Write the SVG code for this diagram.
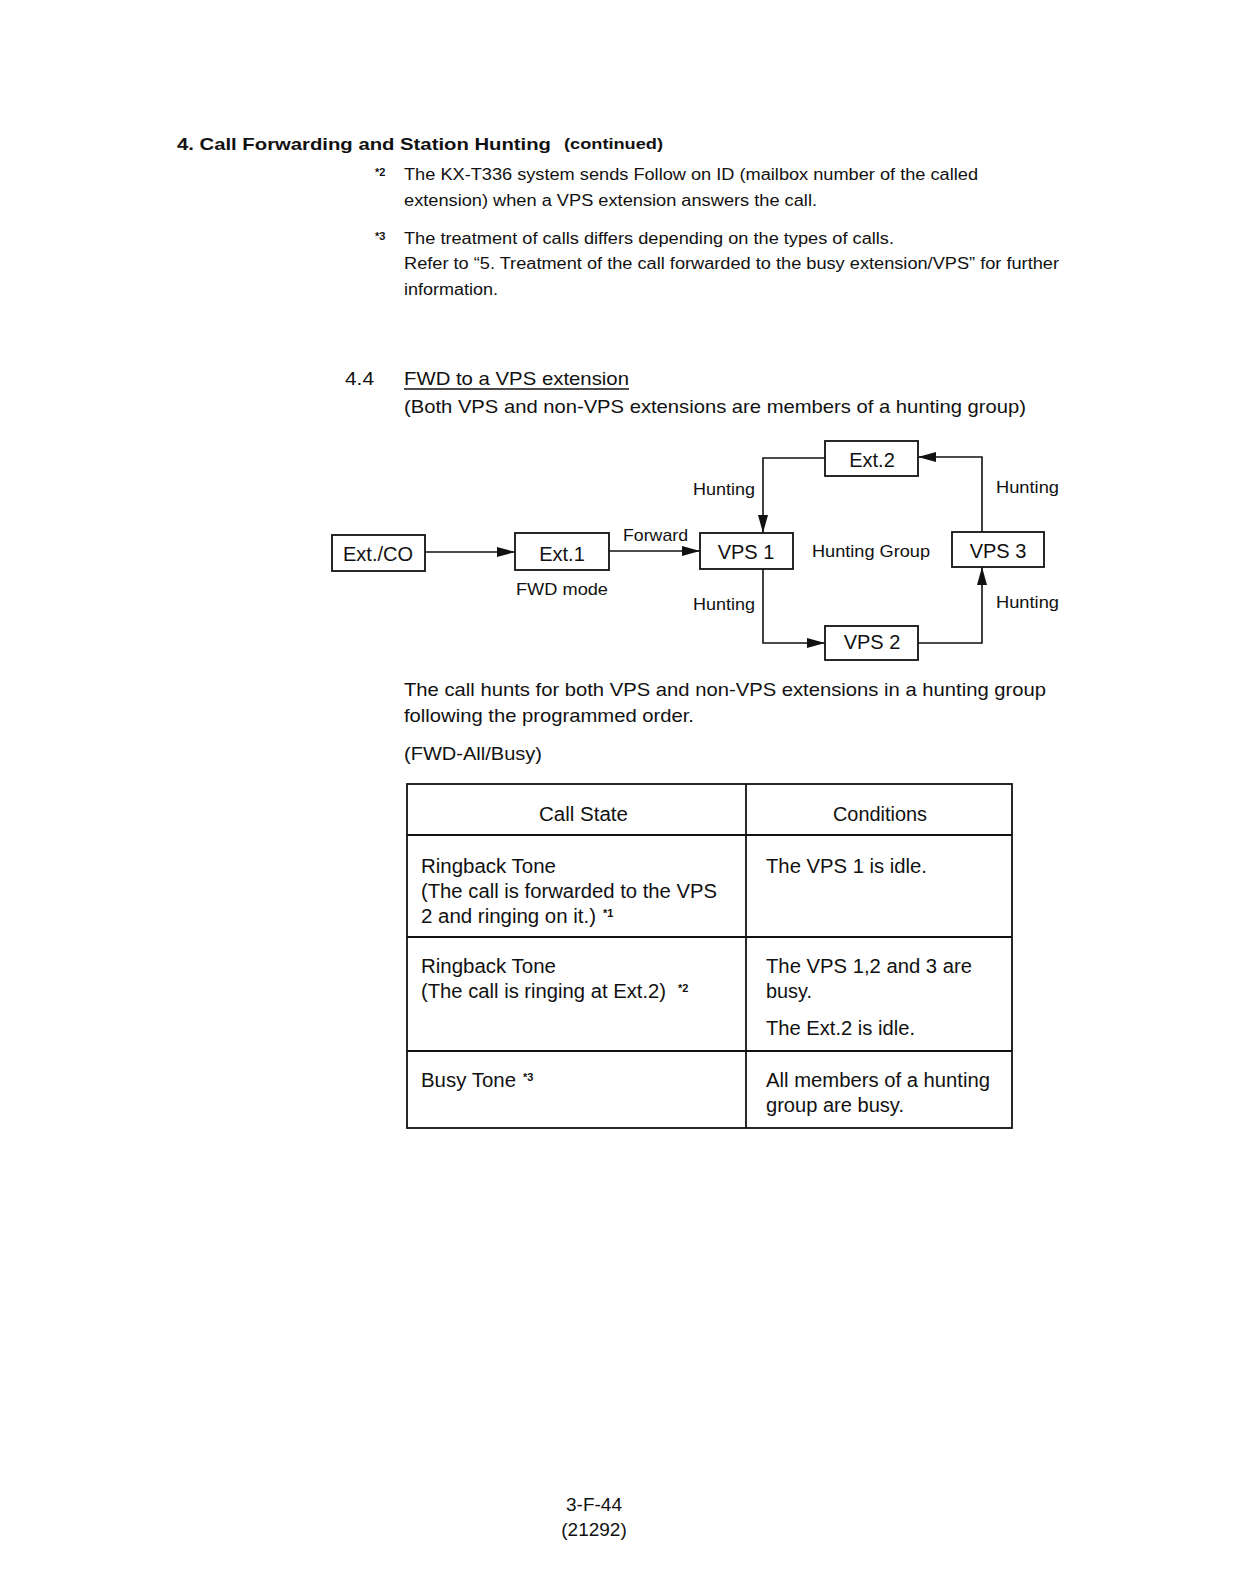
<svg xmlns="http://www.w3.org/2000/svg" width="1236" height="1593" viewBox="0 0 1236 1593">
<style>
text{font-family:"Liberation Sans",Arial,Helvetica,sans-serif;fill:#111}
.hd{font-size:17px;font-weight:bold}
.hs{font-size:14px;font-weight:bold}
.fn{font-size:16px}
.sup{font-size:11px;font-weight:bold}
.bd{font-size:19px}
.tb{font-size:20px}
.bx{font-size:20px;text-anchor:middle}
.lb{font-size:17px}
.sm{font-size:16px}
.box{fill:#fff;stroke:#111;stroke-width:1.8}
.ln{fill:none;stroke:#111;stroke-width:1.6}
.tbl{fill:none;stroke:#111;stroke-width:1.8}
</style>
<defs>
<marker id="ah" viewBox="0 0 18 10" refX="18" refY="5" markerWidth="18" markerHeight="10" markerUnits="userSpaceOnUse" orient="auto">
<path d="M0,0 L18,5 L0,10 Z" fill="#111"/>
</marker>
</defs>
<rect width="1236" height="1593" fill="#fff"/>

<g id="header">
<text class="hd" x="177" y="150" textLength="374" lengthAdjust="spacingAndGlyphs">4. Call Forwarding and Station Hunting</text>
<text class="hs" x="564" y="149" textLength="99" lengthAdjust="spacingAndGlyphs">(continued)</text>
<text class="sup" x="375" y="176">*2</text>
<text class="fn" x="404" y="180" textLength="574" lengthAdjust="spacingAndGlyphs">The KX-T336 system sends Follow on ID (mailbox number of the called</text>
<text class="fn" x="404" y="206" textLength="413" lengthAdjust="spacingAndGlyphs">extension) when a VPS extension answers the call.</text>
<text class="sup" x="375" y="240">*3</text>
<text class="fn" x="404" y="244" textLength="490" lengthAdjust="spacingAndGlyphs">The treatment of calls differs depending on the types of calls.</text>
<text class="fn" x="404" y="269" textLength="655" lengthAdjust="spacingAndGlyphs">Refer to “5. Treatment of the call forwarded to the busy extension/VPS” for further</text>
<text class="fn" x="404" y="295" textLength="94" lengthAdjust="spacingAndGlyphs">information.</text>
</g>

<g id="section">
<text class="bd" x="345" y="385" textLength="29" lengthAdjust="spacingAndGlyphs">4.4</text>
<text class="bd" x="404" y="385" textLength="225" lengthAdjust="spacingAndGlyphs">FWD to a VPS extension</text>
<line x1="404" y1="389" x2="629" y2="389" stroke="#111" stroke-width="1.4"/>
<text class="bd" x="404" y="413" textLength="622" lengthAdjust="spacingAndGlyphs">(Both VPS and non-VPS extensions are members of a hunting group)</text>
</g>

<g id="connectors">
<line class="ln" x1="425" y1="552" x2="515" y2="552" marker-end="url(#ah)"/>
<line class="ln" x1="609" y1="551" x2="700" y2="551" marker-end="url(#ah)"/>
<polyline class="ln" points="825,458 763,458 763,533" marker-end="url(#ah)"/>
<polyline class="ln" points="763,569 763,643 825,643" marker-end="url(#ah)"/>
<polyline class="ln" points="918,643 982,643 982,567" marker-end="url(#ah)"/>
<polyline class="ln" points="982,532 982,457 918,457" marker-end="url(#ah)"/>
</g>

<g id="node-extco">
<rect class="box" x="332" y="535" width="93" height="36"/>
<text class="bx" x="378" y="561">Ext./CO</text>
</g>
<g id="node-ext1">
<rect class="box" x="515" y="533" width="94" height="37"/>
<text class="bx" x="562" y="561">Ext.1</text>
</g>
<g id="node-vps1">
<rect class="box" x="700" y="533" width="93" height="36"/>
<text class="bx" x="746" y="559">VPS 1</text>
</g>
<g id="node-ext2">
<rect class="box" x="825" y="441" width="93" height="35"/>
<text class="bx" x="872" y="467">Ext.2</text>
</g>
<g id="node-vps2">
<rect class="box" x="825" y="626" width="93" height="34"/>
<text class="bx" x="872" y="649">VPS 2</text>
</g>
<g id="node-vps3">
<rect class="box" x="952" y="532" width="92" height="35"/>
<text class="bx" x="998" y="558">VPS 3</text>
</g>

<g id="labels">
<text class="lb" x="623" y="541" textLength="65" lengthAdjust="spacingAndGlyphs">Forward</text>
<text class="sm" x="516" y="595" textLength="92" lengthAdjust="spacingAndGlyphs">FWD mode</text>
<text class="lb" x="693" y="495" textLength="62" lengthAdjust="spacingAndGlyphs">Hunting</text>
<text class="lb" x="996" y="493" textLength="63" lengthAdjust="spacingAndGlyphs">Hunting</text>
<text class="lb" x="693" y="610" textLength="62" lengthAdjust="spacingAndGlyphs">Hunting</text>
<text class="lb" x="996" y="608" textLength="63" lengthAdjust="spacingAndGlyphs">Hunting</text>
<text class="lb" x="812" y="557" textLength="118" lengthAdjust="spacingAndGlyphs">Hunting Group</text>
</g>

<g id="body">
<text class="bd" x="404" y="696" textLength="642" lengthAdjust="spacingAndGlyphs">The call hunts for both VPS and non-VPS extensions in a hunting group</text>
<text class="bd" x="404" y="722" textLength="290" lengthAdjust="spacingAndGlyphs">following the programmed order.</text>
<text class="bd" x="404" y="760" textLength="138" lengthAdjust="spacingAndGlyphs">(FWD-All/Busy)</text>
</g>

<g id="table">
<rect class="tbl" x="407" y="784" width="605" height="344"/>
<line class="tbl" x1="746" y1="784" x2="746" y2="1128"/>
<line class="tbl" x1="407" y1="835" x2="1012" y2="835"/>
<line class="tbl" x1="407" y1="937" x2="1012" y2="937"/>
<line class="tbl" x1="407" y1="1051" x2="1012" y2="1051"/>
<text class="tb" x="539" y="821" textLength="89" lengthAdjust="spacingAndGlyphs">Call State</text>
<text class="tb" x="833" y="821" textLength="94" lengthAdjust="spacingAndGlyphs">Conditions</text>
<text class="tb" x="421" y="873" textLength="135" lengthAdjust="spacingAndGlyphs">Ringback Tone</text>
<text class="tb" x="421" y="898" textLength="296" lengthAdjust="spacingAndGlyphs">(The call is forwarded to the VPS</text>
<text class="tb" x="421" y="923" textLength="175" lengthAdjust="spacingAndGlyphs">2 and ringing on it.)</text>
<text class="sup" x="603" y="917">*1</text>
<text class="tb" x="766" y="873" textLength="161" lengthAdjust="spacingAndGlyphs">The VPS 1 is idle.</text>
<text class="tb" x="421" y="973" textLength="135" lengthAdjust="spacingAndGlyphs">Ringback Tone</text>
<text class="tb" x="421" y="998" textLength="245" lengthAdjust="spacingAndGlyphs">(The call is ringing at Ext.2)</text>
<text class="sup" x="678" y="992">*2</text>
<text class="tb" x="766" y="973" textLength="206" lengthAdjust="spacingAndGlyphs">The VPS 1,2 and 3 are</text>
<text class="tb" x="766" y="998" textLength="46" lengthAdjust="spacingAndGlyphs">busy.</text>
<text class="tb" x="766" y="1035" textLength="149" lengthAdjust="spacingAndGlyphs">The Ext.2 is idle.</text>
<text class="tb" x="421" y="1087" textLength="95" lengthAdjust="spacingAndGlyphs">Busy Tone</text>
<text class="sup" x="523" y="1081">*3</text>
<text class="tb" x="766" y="1087" textLength="224" lengthAdjust="spacingAndGlyphs">All members of a hunting</text>
<text class="tb" x="766" y="1112" textLength="138" lengthAdjust="spacingAndGlyphs">group are busy.</text>
</g>

<g id="footer">
<text class="bd" x="594" y="1511" text-anchor="middle">3-F-44</text>
<text class="bd" x="594" y="1536" text-anchor="middle">(21292)</text>
</g>
</svg>
